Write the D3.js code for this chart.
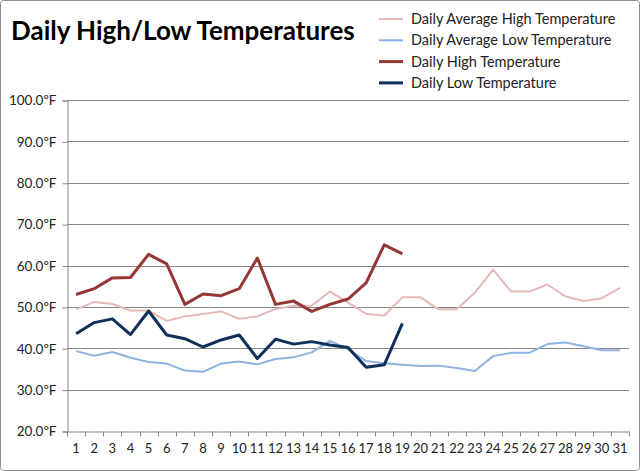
<!DOCTYPE html>
<html>
<head>
<meta charset="utf-8">
<script src="https://cdn.jsdelivr.net/npm/d3@7"></script>
<style>
  body { margin: 0; background: #fff; }
  svg text { font-family: Lato, "Open Sans", sans-serif; }
</style>
</head>
<body>
<div id="chart"></div>
<script>
// days of the month
let days = d3.range(1, 32)
let y_ticks = [20, 30, 40, 50, 60, 70, 80, 90, 100]

let avg_high = [49.4, 51.2, 50.7, 49.1, 49.1, 46.6, 47.7, 48.3, 48.9, 47.1, 47.7,
    49.5, 50.3, 50.3, 53.7, 51.1, 48.3, 47.9, 52.3, 52.3, 49.4, 49.4, 53.4, 59.0,
    53.7, 53.7, 55.4, 52.5, 51.4, 52.1, 54.6]
let avg_low = [39.3, 38.2, 39.1, 37.7, 36.7, 36.3, 34.6, 34.3, 36.3, 36.8, 36.1,
    37.4, 37.8, 39.0, 41.8, 39.8, 36.9, 36.4, 36.0, 35.7, 35.8, 35.2, 34.5, 38.1,
    38.9, 38.9, 41.0, 41.4, 40.5, 39.5, 39.5]
let daily_high = [53.0, 54.4, 57.0, 57.1, 62.7, 60.4, 50.6, 53.1, 52.7, 54.4, 61.8,
    50.6, 51.4, 48.9, 50.6, 51.9, 55.8, 65.0, 62.8]
let daily_low = [43.5, 46.2, 47.1, 43.3, 49.0, 43.2, 42.3, 40.3, 42.0, 43.2, 37.5,
    42.2, 41.0, 41.6, 40.8, 40.2, 35.4, 36.0, 46.0]

let series = [
    {name: 'Daily Average High Temperature', values: avg_high, color: '#e6b9b8', width: 2},
    {name: 'Daily Average Low Temperature', values: avg_low, color: '#8db3e2', width: 2},
    {name: 'Daily High Temperature', values: daily_high, color: '#953735', width: 3},
    {name: 'Daily Low Temperature', values: daily_low, color: '#10305a', width: 3}
]

let svgWidth = 640, svgHeight = 471
let padding = {left: 67, right: 11, top: 100, bottom: 40}

let svg = d3.select('#chart').append('svg')
    .attr('width', svgWidth)
    .attr('height', svgHeight)

// outer frame
svg.append('rect')
    .attr('x', 0.5).attr('y', 0.5)
    .attr('width', svgWidth - 1).attr('height', svgHeight - 1)
    .attr('rx', 3)
    .attr('fill', '#fff')
    .attr('stroke', '#8c8c8c')

let x = d3.scaleBand()
    .domain(days)
    .range([padding.left, svgWidth - padding.right])
let y = d3.scaleLinear()
    .domain([20, 100])
    .range([svgHeight - padding.bottom, padding.top])

// grid
svg.append('g')
    .selectAll('line')
    .data(y_ticks.slice(1))
    .enter()
    .append('line')
    .attr('x1', padding.left)
    .attr('x2', svgWidth - padding.right)
    .attr('y1', d => Math.round(y(d)) + 0.5)
    .attr('y2', d => Math.round(y(d)) + 0.5)
    .attr('stroke', '#868686')

let axis_y = d3.axisLeft(y)
    .tickValues(y_ticks)
    .tickSize(5)
    .tickPadding(6)
    .tickFormat(d => d3.format('.1f')(d) + 'ºF')
let gy = svg.append('g')
    .attr('transform', `translate(${padding.left + 0.5}, 0.5)`)
    .call(axis_y)
gy.select('.domain').attr('stroke', '#868686')
gy.selectAll('.tick line').attr('stroke', '#868686')
gy.selectAll('.tick text')
    .attr('font-size', '13.5px')
    .attr('fill', '#222')
    .style('font-family', 'Lato, sans-serif')

let axis_x = d3.axisBottom(x)
    .tickSize(0)
    .tickPadding(12)
let gx = svg.append('g')
    .attr('transform', `translate(0, ${Math.round(y(20)) + 0.5})`)
    .call(axis_x)
gx.select('.domain').attr('stroke', '#868686')
gx.selectAll('.tick text')
    .attr('font-size', '13px')
    .attr('fill', '#222')
    .style('font-family', 'Lato, sans-serif')
// ticks between days
gx.append('g')
    .selectAll('line')
    .data(days.concat([32]))
    .enter()
    .append('line')
    .attr('x1', d => Math.round(d <= 31 ? x(d) : x(31) + x.bandwidth()) + 0.5)
    .attr('x2', d => Math.round(d <= 31 ? x(d) : x(31) + x.bandwidth()) + 0.5)
    .attr('y1', 0)
    .attr('y2', 5)
    .attr('stroke', '#868686')

let line = d3.line()
    .x((d, i) => x(days[i]) + x.bandwidth() / 2)
    .y(d => y(d))

svg.append('g')
    .selectAll('path')
    .data(series)
    .enter()
    .append('path')
    .attr('d', d => line(d.values))
    .attr('fill', 'none')
    .attr('stroke', d => d.color)
    .attr('stroke-width', d => d.width)
    .attr('stroke-linejoin', 'round')

// title
svg.append('text')
    .attr('x', 11)
    .attr('y', 40)
    .attr('font-size', '26px')
    .attr('font-weight', 'bold')
    .attr('fill', '#000')
    .text('Daily High/Low Temperatures')

// legend
let legend = svg.append('g')
    .selectAll('g')
    .data(series)
    .enter()
    .append('g')
    .attr('transform', (d, i) => `translate(379, ${19 + i * 21.3})`)
legend.append('line')
    .attr('x1', 0).attr('x2', 24)
    .attr('stroke', d => d.color)
    .attr('stroke-width', d => d.width)
legend.append('text')
    .attr('x', 32)
    .attr('dy', '0.35em')
    .attr('font-size', '14.5px')
    .attr('fill', '#222')
    .text(d => d.name)
</script>
</body>
</html>
